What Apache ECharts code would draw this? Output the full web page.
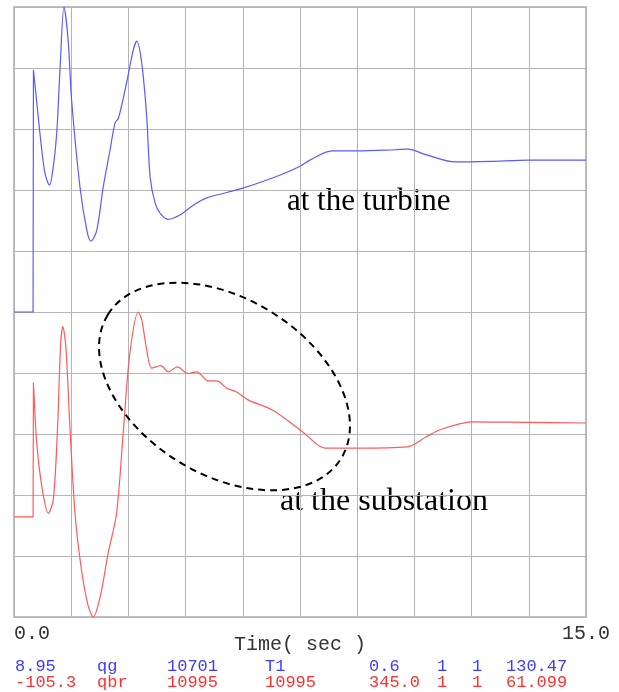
<!DOCTYPE html>
<html>
<head>
<meta charset="utf-8">
<script src="https://cdn.jsdelivr.net/npm/echarts@6/dist/echarts.min.js"></script>
<style>
  html, body { margin: 0; padding: 0; background: #fff; }
  #chart { width: 619px; height: 692px; }
</style>
</head>
<body>
<div id="chart"></div>
<script>
// ---- Data (time in seconds, value in grid units 0..10) ----
const xTickLabels = ['0.0', '15.0'];
const axisTitle = 'Time( sec )';

const turbineSeries = [
  [0, 5.0], [0.5, 5.0], [0.51, 8.97], [0.68, 7.93], [0.81, 7.28], [0.93, 7.08],
  [1.03, 7.38], [1.12, 7.93], [1.21, 9.02], [1.31, 10.0], [1.42, 9.46], [1.51, 8.48],
  [1.73, 7.05], [1.91, 6.34], [2.02, 6.16], [2.17, 6.34], [2.34, 7.05], [2.52, 7.66],
  [2.65, 8.10], [2.74, 8.18], [2.95, 8.75], [3.13, 9.30], [3.22, 9.44], [3.35, 9.08],
  [3.48, 8.20], [3.57, 7.21], [3.70, 6.79], [3.83, 6.62], [4.04, 6.52], [4.35, 6.59],
  [4.70, 6.75], [5.06, 6.87], [6.0, 7.03], [7.0, 7.25], [7.5, 7.39], [7.76, 7.49],
  [8.34, 7.64], [9.0, 7.64], [10.0, 7.66], [10.33, 7.67], [10.8, 7.58], [11.57, 7.46],
  [12.5, 7.47], [13.5, 7.49], [15.0, 7.49]
];

const substationSeries = [
  [0, 1.64], [0.5, 1.64], [0.51, 3.84], [0.59, 2.90], [0.73, 2.14], [0.90, 1.70],
  [1.03, 1.92], [1.14, 3.07], [1.22, 4.43], [1.28, 4.76], [1.36, 4.43], [1.47, 3.07],
  [1.60, 1.70], [1.77, 0.77], [1.95, 0.17], [2.08, 0.0], [2.26, 0.33], [2.47, 1.05],
  [2.69, 1.70], [2.87, 3.07], [3.04, 4.33], [3.26, 5.0], [3.35, 4.87], [3.48, 4.38],
  [3.61, 4.08], [3.85, 4.12], [4.05, 4.02], [4.28, 4.10], [4.57, 3.99], [4.79, 4.02],
  [5.10, 3.87], [5.32, 3.87], [5.58, 3.75], [5.84, 3.69], [6.14, 3.56], [6.79, 3.39],
  [7.58, 3.03], [8.16, 2.77], [9.0, 2.77], [10.31, 2.79], [10.8, 2.95], [11.17, 3.07],
  [12.01, 3.20], [13.5, 3.19], [15.0, 3.18]
];

const footerBlue = ['8.95', 'qg', '10701', 'T1', '0.6', '1', '1', '130.47'];
const footerRed = ['-105.3', 'qbr', '10995', '10995', '345.0', '1', '1', '61.099'];
const annotations = ['at the turbine', 'at the substation'];

// ---- Layout / style ----
const footerCols = [15, 97, 167, 265, 369, 437, 472, 506];
const BLUE = '#5a5aff';
const RED = '#ff5a5a';
const BLUE_TXT = '#3c3cff';
const RED_TXT = '#ff3030';

const chart = echarts.init(document.getElementById('chart'));

const graphics = [];
footerBlue.forEach((t, i) => graphics.push({
  type: 'text', left: footerCols[i], top: 658,
  style: { text: t, fill: BLUE_TXT, font: '17px "Liberation Mono"' }, silent: true
}));
footerRed.forEach((t, i) => graphics.push({
  type: 'text', left: footerCols[i], top: 674,
  style: { text: t, fill: RED_TXT, font: '17px "Liberation Mono"' }, silent: true
}));
graphics.push({
  type: 'text', left: 287, top: 186,
  style: { text: annotations[0], fill: '#000', font: '31px "Liberation Serif"' }, silent: true
});
graphics.push({
  type: 'text', left: 280, top: 486,
  style: { text: annotations[1], fill: '#000', font: '32px "Liberation Serif"' }, silent: true
});
graphics.push({
  type: 'ellipse', x: 224.5, y: 386.5, rotation: -0.552,
  shape: { cx: 0, cy: 0, rx: 137, ry: 88 },
  style: { fill: 'none', stroke: '#000', lineWidth: 2, lineDash: [7, 5] },
  silent: true, z: 100
});

chart.setOption({
  animation: false,
  backgroundColor: '#fff',
  grid: { left: 14, right: 33, top: 7, bottom: 75, show: true, borderColor: '#aaa', borderWidth: 1.5 },
  xAxis: {
    type: 'value', min: 0, max: 15, interval: 1.5,
    name: axisTitle, nameLocation: 'middle', nameGap: 18, nameMoveOverlap: false,
    nameTextStyle: { fontFamily: 'Liberation Mono', fontSize: 20, color: '#333' },
    axisLine: { show: false }, axisTick: { show: false },
    axisLabel: {
      show: true, showMinLabel: true, showMaxLabel: true, alignMinLabel: 'left',
      margin: 7, fontFamily: 'Liberation Mono', fontSize: 20, color: '#333',
      formatter: v => (v === 0 ? xTickLabels[0] : (Math.abs(v - 15) < 1e-9 ? xTickLabels[1] : ''))
    },
    splitLine: { show: true, lineStyle: { color: '#b4b4b4', width: 1 } }
  },
  yAxis: {
    type: 'value', min: 0, max: 10, interval: 1,
    axisLine: { show: false }, axisTick: { show: false }, axisLabel: { show: false },
    splitLine: { show: true, lineStyle: { color: '#b4b4b4', width: 1 } }
  },
  series: [
    { name: 'qg', type: 'line', data: turbineSeries, showSymbol: false, smooth: 0.3,
      lineStyle: { color: BLUE, width: 1.2 }, itemStyle: { color: BLUE }, clip: false },
    { name: 'qbr', type: 'line', data: substationSeries, showSymbol: false, smooth: 0.3,
      lineStyle: { color: RED, width: 1.2 }, itemStyle: { color: RED }, clip: false }
  ],
  graphic: graphics
});
</script>
</body>
</html>
